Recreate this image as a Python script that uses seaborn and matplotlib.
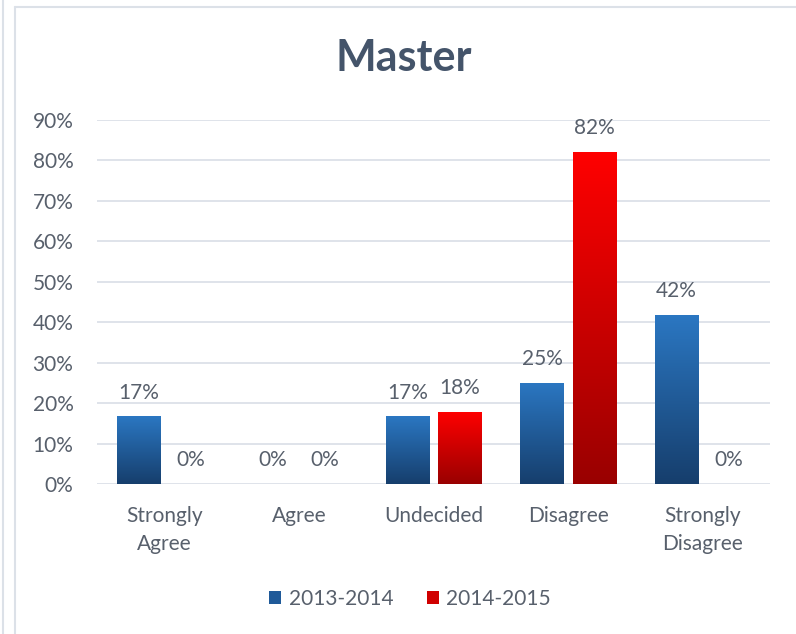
import numpy as np
import pandas as pd
import matplotlib
matplotlib.use("Agg")
import matplotlib.pyplot as plt
import seaborn as sns
from matplotlib.colors import LinearSegmentedColormap
from matplotlib.patches import Patch
from matplotlib.lines import Line2D

categories = ["Strongly\nAgree", "Agree", "Undecided", "Disagree", "Strongly\nDisagree"]
series_names = ["2013-2014", "2014-2015"]
values_2013 = [16.7, 0.0, 16.7, 25.0, 41.7]
values_2014 = [0.0, 0.0, 17.9, 82.1, 0.0]
labels_2013 = ["17%", "0%", "17%", "25%", "42%"]
labels_2014 = ["0%", "0%", "18%", "82%", "0%"]
yticks = [0, 10, 20, 30, 40, 50, 60, 70, 80, 90]
title = "Master"

sns.set_theme(style="white")
plt.rcParams['font.family'] = ['Lato', 'DejaVu Sans']

df = pd.DataFrame({
    "category": categories * 2,
    "series": [series_names[0]] * 5 + [series_names[1]] * 5,
    "value": values_2013 + values_2014,
})

TXT = "#58606C"
blue_top, blue_bot = "#2B77C2", "#163E6C"
red_top, red_bot = "#FF0000", "#990000"

fig = plt.figure(figsize=(7.96, 6.34), dpi=100)
fig.patch.set_facecolor("white")
ax = fig.add_axes([97 / 796, 1 - 484 / 634, (770 - 97) / 796, (484 - 120) / 634])

sns.barplot(data=df, x="category", y="value", hue="series",
            palette=[blue_top, red_top], width=0.774, gap=0.17,
            order=categories, hue_order=series_names, ax=ax, legend=False,
            saturation=1, linewidth=0)

ax.set_ylim(0, 90)
ax.set_xlim(-0.5, 4.5)
ax.set_yticks(yticks)
ax.set_yticklabels([f"{t}%" for t in yticks])
ax.yaxis.grid(True, color="#D9DEE6", linewidth=1.2)
ax.set_axisbelow(True)
for s in ax.spines.values():
    s.set_visible(False)
ax.set_xlabel("")
ax.set_ylabel("")
ax.tick_params(axis="y", length=0, pad=17, labelsize=15, labelcolor=TXT)
ax.tick_params(axis="x", length=0, pad=16, labelsize=15, labelcolor=TXT)
for lab in ax.get_xticklabels():
    lab.set_linespacing(1.5)

cmap_b = LinearSegmentedColormap.from_list("b", [blue_bot, blue_top])
cmap_r = LinearSegmentedColormap.from_list("r", [red_bot, red_top])
grad = np.linspace(0, 1, 256).reshape(-1, 1)

patches = list(ax.patches)
n = len(categories)
all_labels = labels_2013 + labels_2014
for i, p in enumerate(patches[:2 * n]):
    x0 = p.get_x()
    w, h = p.get_width(), p.get_height()
    cmap = cmap_b if i < n else cmap_r
    if h > 0:
        p.set_facecolor("none")
        im = ax.imshow(grad, cmap=cmap, aspect="auto", origin="lower",
                       extent=[x0, x0 + w, 0, h], zorder=2, interpolation="bilinear")
        im.set_clip_path(p)
    ax.annotate(all_labels[i], (x0 + w / 2, h), xytext=(0, 10), textcoords="offset points",
                ha="center", va="bottom", fontsize=15, color=TXT)
ax.set_xlim(-0.5, 4.5)
ax.set_ylim(0, 90)
ax.set_aspect("auto")

fig.text(404 / 796, 1 - 58 / 634, title, ha="center", va="center",
         fontsize=31, fontweight="bold", color="#44546A")

handles = [Patch(facecolor="#1F5A99", edgecolor="none"),
           Patch(facecolor="#D00000", edgecolor="none")]
fig.legend(handles, series_names, loc="center", bbox_to_anchor=(410 / 796, 1 - 599 / 634),
           ncol=2, frameon=False, fontsize=15, labelcolor=TXT,
           handlelength=0.6, handleheight=0.6, handletextpad=0.35, columnspacing=1.6)

# chart frame lines
fig.add_artist(Line2D([3 / 796, 3 / 796], [0, 1], color="#DCE1E8", lw=1.5, transform=fig.transFigure))
fig.add_artist(Line2D([15 / 796, 15 / 796], [0, 1 - 7 / 634], color="#DCE1E8", lw=1.5, transform=fig.transFigure))
fig.add_artist(Line2D([15 / 796, 1], [1 - 7 / 634, 1 - 7 / 634], color="#DCE1E8", lw=1.5, transform=fig.transFigure))

fig.savefig("out.png", dpi=100, facecolor="white")
